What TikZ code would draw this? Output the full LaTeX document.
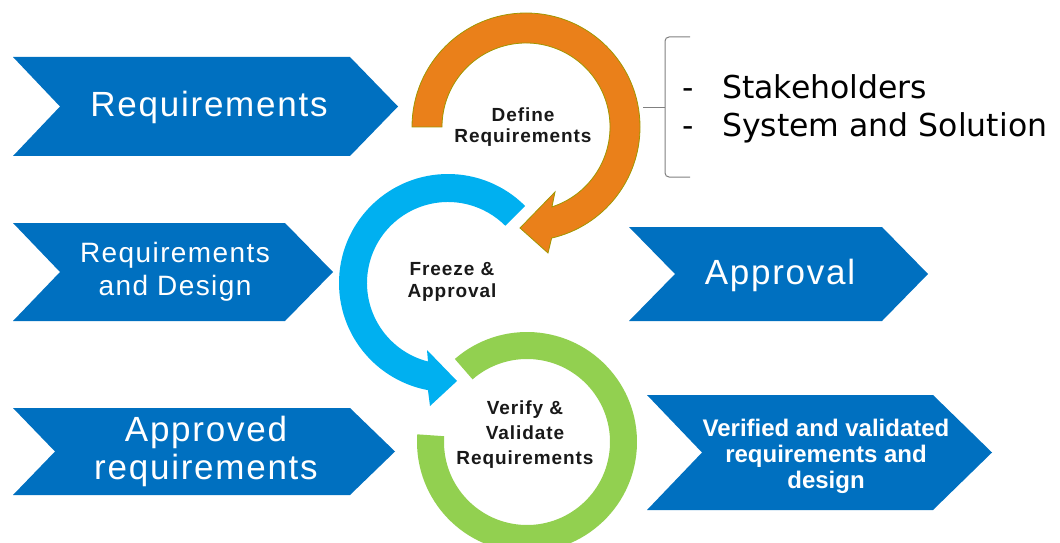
\documentclass[tikz,border=0pt]{standalone}
\usepackage{fontspec}
\setmainfont{Liberation Sans}
\newfontfamily\widefont[LetterSpace=5]{Liberation Sans}
\newfontfamily\listfont{DejaVu Sans}

\definecolor{chevblue}{RGB}{0,112,192}
\definecolor{defineorange}{RGB}{234,128,26}
\definecolor{defineedge}{RGB}{160,150,0}
\definecolor{freezeblue}{RGB}{0,176,240}
\definecolor{verifygreen}{RGB}{146,208,80}
\definecolor{bracegray}{RGB}{128,128,128}

\tikzset{
  chev/.style={fill=chevblue},
  chevtext/.style={text=white, align=center, inner sep=0pt},
  stagetext/.style={text=black!90, align=center, inner sep=0pt},
  listtext/.style={anchor=west, inner sep=0pt, font=\listfont\fontsize{31.5}{36}\selectfont}
}

\begin{document}
\begin{tikzpicture}[x=1pt,y=1pt]
  \useasboundingbox (0,0) rectangle (1060,542);

  % chevrons on the left
  \fill[chev] (13,485) -- (350,485) -- (398,435.5) -- (350,386) -- (13,386) -- (60,435.5) -- cycle;
  \node[chevtext, font=\widefont\fontsize{35}{38}\selectfont] (req) at (209,435) {Requirements};

  \fill[chev] (13,319) -- (285,319) -- (333,270) -- (285,221) -- (13,221) -- (60,270) -- cycle;
  \node[chevtext, font=\widefont\fontsize{28}{33}\selectfont] (reqdesign) at (175,270) {Requirements\\and Design};

  \fill[chev] (13,134) -- (350,134) -- (395,90.5) -- (350,47) -- (13,47) -- (55,90.5) -- cycle;
  \node[chevtext, font=\widefont\fontsize{35}{38}\selectfont] (approved) at (206,91) {Approved\\requirements};

  % chevrons on the right
  \fill[chev] (629,315) -- (882,315) -- (928,268) -- (882,221) -- (629,221) -- (675,268) -- cycle;
  \node[chevtext, font=\widefont\fontsize{35}{38}\selectfont] (approval) at (780,267) {Approval};

  \fill[chev] (647,147) -- (933,147) -- (992,89.5) -- (933,32) -- (647,32) -- (702,89.5) -- cycle;
  \node[chevtext, font=\bfseries\fontsize{24}{26}\selectfont] (verified) at (826,86) {Verified and validated\\requirements and\\design};

  % green ring
  \begin{scope}[shift={(527,100)}]
    \fill[verifygreen] (131:110) arc[start angle=131, end angle=-184, radius=110]
      -- (-184:83) arc[start angle=-184, end angle=131, radius=83] -- cycle;
  \end{scope}

  % blue circular arrow
  \begin{scope}[shift={(448,259)}]
    \fill[freezeblue] (45:109) arc[start angle=45, end angle=259.4, radius=109]
      -- (-18,-123) -- (9,-98) -- (-21,-67)
      -- (255.7:81) arc[start angle=255.7, end angle=45, radius=81] -- cycle;
  \end{scope}

  % orange circular arrow
  \begin{scope}[shift={(526,415)}]
    \filldraw[fill=defineorange, draw=defineedge, line width=0.8pt] (180:114) arc[start angle=180, end angle=-77, radius=114]
      -- (22,-126) -- (-6,-101) -- (29,-65)
      -- (-72:84) arc[start angle=-72, end angle=180, radius=84] -- cycle;
  \end{scope}

  \node[stagetext, font=\widefont\bfseries\fontsize{19}{21}\selectfont] (define) at (523,415) {Define\\Requirements};
  \node[stagetext, font=\widefont\bfseries\fontsize{19}{22}\selectfont] (freeze) at (452,260) {Freeze \&\\Approval};
  \node[stagetext, font=\widefont\bfseries\fontsize{19}{25}\selectfont] (verify) at (525,107) {Verify \&\\Validate\\Requirements};

  % brace and list
  \coordinate (bracetip) at (643,434);
  \draw[bracegray, line width=1pt, rounded corners=4pt] (690,505) -- (665,505) -- (665,365) -- (690,365);
  \draw[bracegray, line width=1pt, rounded corners=3pt] (bracetip) -- (665,434);
  \node[listtext] (stake) at (682,455) {\makebox[40pt][l]{-}Stakeholders};
  \node[listtext] (system) at (682,414) {\makebox[40pt][l]{-}System and Solution};

\end{tikzpicture}
\end{document}
